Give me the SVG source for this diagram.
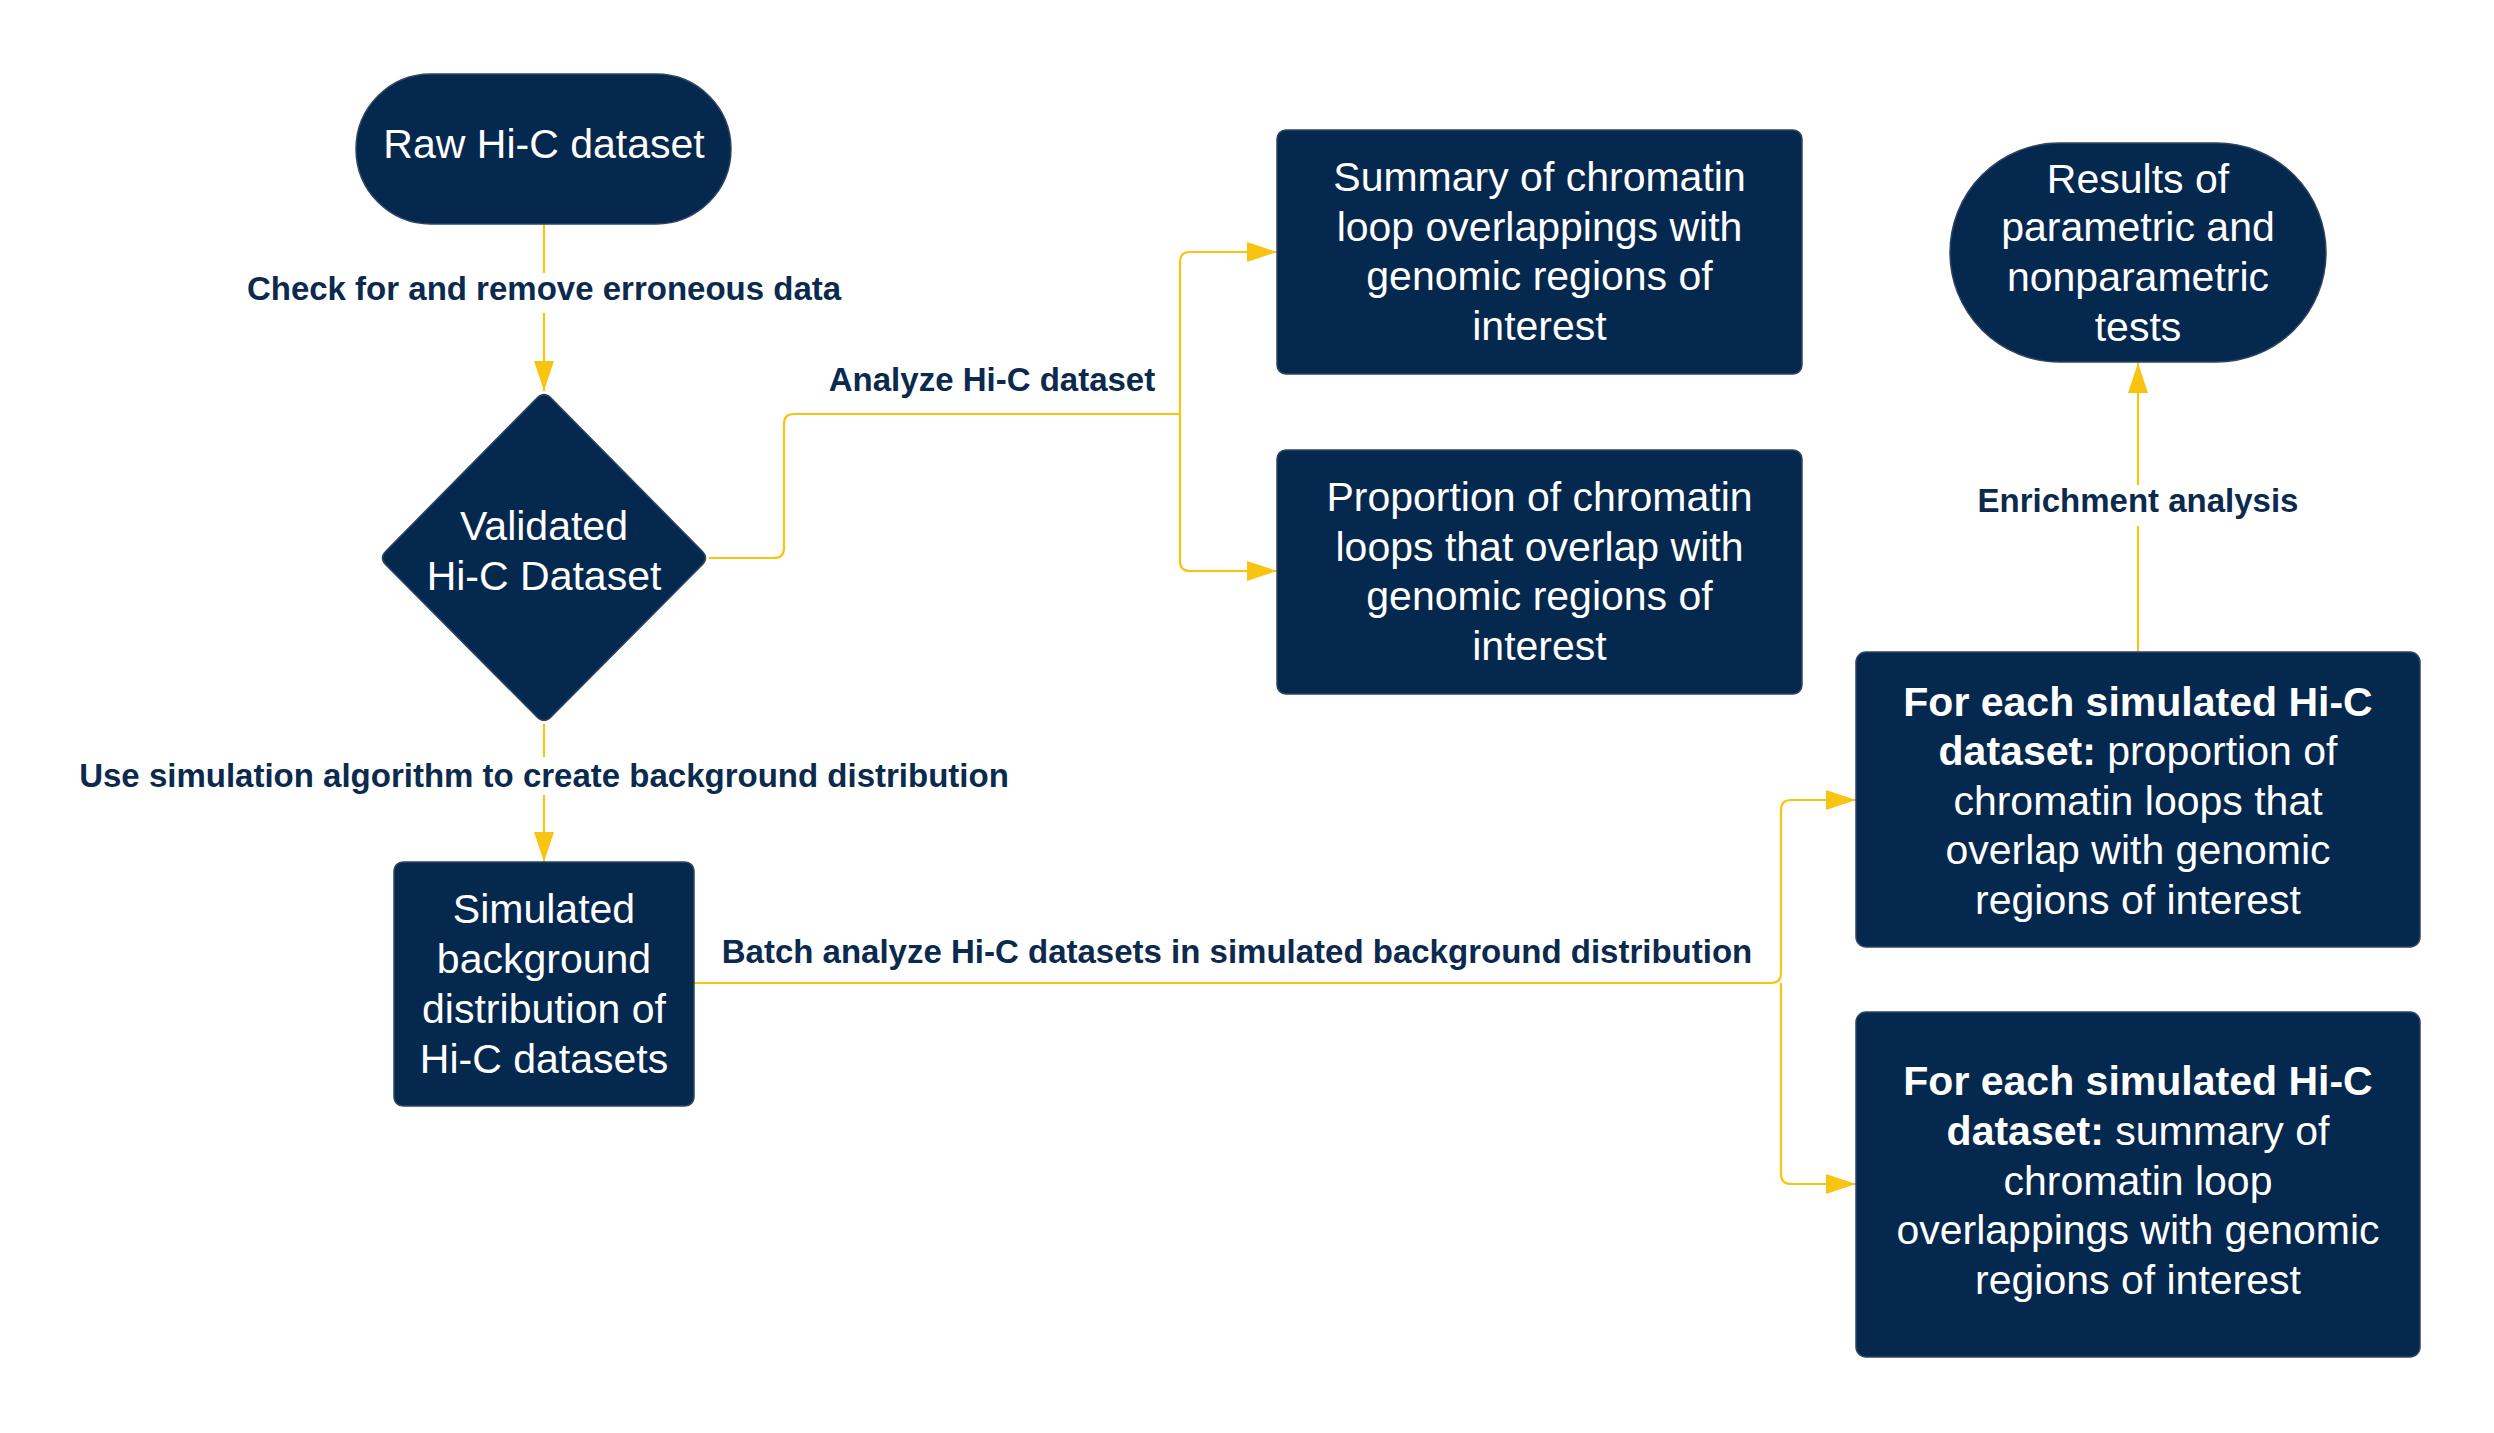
<svg xmlns="http://www.w3.org/2000/svg" width="2494" height="1433" viewBox="0 0 2494 1433">
  <style>
    .node { fill: #05284f; stroke: #2e4460; stroke-width: 1.5; }
    .ntext { font-family: "Liberation Sans", Arial, sans-serif; font-size: 41px; fill: #ffffff; text-anchor: middle; }
    .b { font-weight: bold; }
    .edge { fill: none; stroke: #f9c312; stroke-width: 2.2; }
    .label { font-family: "Liberation Sans", Arial, sans-serif; font-size: 33px; font-weight: bold; fill: #0b2a4e; text-anchor: middle; }
  </style>
  <defs>
    <marker id="arrow" markerUnits="userSpaceOnUse" markerWidth="32" markerHeight="22" refX="30" refY="10" orient="auto">
      <path d="M0,0 L30,10 L0,20 Z" fill="#f9c312"/>
    </marker>
  </defs>

  <rect x="0" y="0" width="2494" height="1433" fill="#ffffff"/>

  <!-- connectors -->
  <g id="connectors">
    <path class="edge" d="M544,224 V273"/>
    <path class="edge" d="M544,313 V391" marker-end="url(#arrow)"/>

    <path class="edge" d="M709,558 H774 Q784,558 784,548 V424 Q784,414 794,414 H1180"/>
    <path class="edge" d="M1180,414 V262 Q1180,252 1190,252 H1277" marker-end="url(#arrow)"/>
    <path class="edge" d="M1180,414 V561 Q1180,571 1190,571 H1277" marker-end="url(#arrow)"/>

    <path class="edge" d="M544,724 V757"/>
    <path class="edge" d="M544,795 V862" marker-end="url(#arrow)"/>

    <path class="edge" d="M694,983 H1771 Q1781,983 1781,973 V810 Q1781,800 1791,800 H1856" marker-end="url(#arrow)"/>
    <path class="edge" d="M1781,983 V1174 Q1781,1184 1791,1184 H1856" marker-end="url(#arrow)"/>

    <path class="edge" d="M2138,652 V526"/>
    <path class="edge" d="M2138,485 V363" marker-end="url(#arrow)"/>

    <text class="label" x="544" y="300">Check for and remove erroneous data</text>
    <text class="label" x="992" y="391">Analyze Hi-C dataset</text>
    <text class="label" x="544" y="787">Use simulation algorithm to create background distribution</text>
    <text class="label" x="1237" y="963">Batch analyze Hi-C datasets in simulated background distribution</text>
    <text class="label" x="2138" y="512">Enrichment analysis</text>
  </g>

  <!-- start terminal -->
  <g id="raw-hic">
    <rect class="node" x="356" y="74" width="375" height="150" rx="75" ry="75"/>
    <text class="ntext" x="544" y="158">Raw Hi-C dataset</text>
  </g>

  <!-- decision -->
  <g id="validated-hic">
    <path class="node" d="M537,398 Q544,391 551,398 L702,551 Q709,558 702,565 L551,717 Q544,724 537,717 L386,565 Q379,558 386,551 Z"/>
    <text class="ntext" x="544" y="540">Validated</text>
    <text class="ntext" x="544" y="590">Hi-C Dataset</text>
  </g>

  <g id="summary">
    <rect class="node" x="1277" y="130" width="525" height="244" rx="9" ry="9"/>
    <text class="ntext" x="1539.5" y="191">Summary of chromatin</text>
    <text class="ntext" x="1539.5" y="240.5">loop overlappings with</text>
    <text class="ntext" x="1539.5" y="290">genomic regions of</text>
    <text class="ntext" x="1539.5" y="340">interest</text>
  </g>

  <g id="proportion">
    <rect class="node" x="1277" y="450" width="525" height="244" rx="9" ry="9"/>
    <text class="ntext" x="1539.5" y="511">Proportion of chromatin</text>
    <text class="ntext" x="1539.5" y="560.5">loops that overlap with</text>
    <text class="ntext" x="1539.5" y="610">genomic regions of</text>
    <text class="ntext" x="1539.5" y="660">interest</text>
  </g>

  <g id="simulated">
    <rect class="node" x="394" y="862" width="300" height="244" rx="9" ry="9"/>
    <text class="ntext" x="544" y="923">Simulated</text>
    <text class="ntext" x="544" y="973">background</text>
    <text class="ntext" x="544" y="1023">distribution of</text>
    <text class="ntext" x="544" y="1073">Hi-C datasets</text>
  </g>

  <g id="results">
    <rect class="node" x="1950" y="143" width="376" height="219" rx="109.5" ry="109.5"/>
    <text class="ntext" x="2138" y="192.5">Results of</text>
    <text class="ntext" x="2138" y="241">parametric and</text>
    <text class="ntext" x="2138" y="291">nonparametric</text>
    <text class="ntext" x="2138" y="341">tests</text>
  </g>

  <g id="sim-proportion">
    <rect class="node" x="1856" y="652" width="564" height="295" rx="10" ry="10"/>
    <text class="ntext b" x="2138" y="715.5">For each simulated Hi-C</text>
    <text class="ntext" x="2138" y="765"><tspan class="b">dataset:</tspan> proportion of</text>
    <text class="ntext" x="2138" y="814.5">chromatin loops that</text>
    <text class="ntext" x="2138" y="864">overlap with genomic</text>
    <text class="ntext" x="2138" y="913.5">regions of interest</text>
  </g>

  <g id="sim-summary">
    <rect class="node" x="1856" y="1012" width="564" height="345" rx="10" ry="10"/>
    <text class="ntext b" x="2138" y="1095">For each simulated Hi-C</text>
    <text class="ntext" x="2138" y="1145"><tspan class="b">dataset:</tspan> summary of</text>
    <text class="ntext" x="2138" y="1194.5">chromatin loop</text>
    <text class="ntext" x="2138" y="1244">overlappings with genomic</text>
    <text class="ntext" x="2138" y="1293.5">regions of interest</text>
  </g>
</svg>
